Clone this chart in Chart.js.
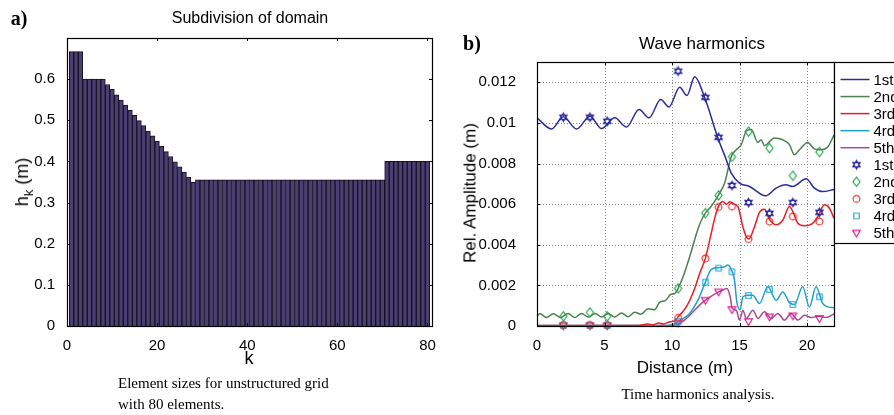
<!DOCTYPE html>
<html>
<head>
<meta charset="utf-8">
<script src="https://cdn.jsdelivr.net/npm/chart.js@4.4.0/dist/chart.umd.min.js"></script>
<style>
  body { margin: 0; background: #fff; }
  #wrap { position: relative; width: 894px; height: 415px; overflow: hidden; font-family: "Liberation Sans", Arial, sans-serif; color: #000; }
  canvas { position: absolute; top: 0; }
  .t { position: absolute; white-space: nowrap; line-height: 1; transform: translate(-50%, -50%); }
  .rot { transform: translate(-50%, -50%) rotate(-90deg); }
  .panel { font-family: "Liberation Serif", serif; font-weight: bold; font-size: 20px; }
  .cap { position: absolute; white-space: nowrap; font-family: "Liberation Serif", serif; font-size: 15px; line-height: 1; }
</style>
</head>
<body>
<div id="wrap">
  <canvas id="chartA" width="445" height="415" style="left:0;width:445px;height:415px"></canvas>
  <canvas id="chartB" width="449" height="415" style="left:445px;width:449px;height:415px"></canvas>

  <div class="t panel" style="left:19px;top:18px">a)</div>
  <div class="t" style="left:250px;top:18px;font-size:16px">Subdivision of domain</div>
  <div class="t rot" style="left:22px;top:182px;font-size:18px">h<span style="font-size:13px;position:relative;top:5px">k</span> (m)</div>
  <div class="t" style="left:249px;top:358px;font-size:18px">k</div>
  <div class="cap" style="left:118px;top:376px">Element sizes for unstructured grid</div>
  <div class="cap" style="left:118px;top:397px">with 80 elements.</div>

  <div class="t panel" style="left:472px;top:43px">b)</div>
  <div class="t" style="left:702px;top:43px;font-size:17px">Wave harmonics</div>
  <div class="t rot" style="left:470px;top:193px;font-size:17px">Rel. Amplitude (m)</div>
  <div class="t" style="left:685px;top:367px;font-size:17px">Distance (m)</div>
  <div class="t cap" style="left:698px;top:394px">Time harmonics analysis.</div>
</div>

<script>
// a) element sizes h_k for the 80 elements
const elementIndex = [1, 2, 3, 4, 5, 6, 7, 8, 9, 10, 11, 12, 13, 14, 15, 16, 17, 18, 19, 20,
  21, 22, 23, 24, 25, 26, 27, 28, 29, 30, 31, 32, 33, 34, 35, 36, 37, 38, 39, 40,
  41, 42, 43, 44, 45, 46, 47, 48, 49, 50, 51, 52, 53, 54, 55, 56, 57, 58, 59, 60,
  61, 62, 63, 64, 65, 66, 67, 68, 69, 70, 71, 72, 73, 74, 75, 76, 77, 78, 79, 80];
const elementSize = [0.667, 0.667, 0.667, 0.6, 0.6, 0.6, 0.6, 0.6,
  0.587, 0.575, 0.562, 0.549, 0.537, 0.524, 0.512, 0.499, 0.487, 0.474,
  0.462, 0.449, 0.437, 0.424, 0.412, 0.399, 0.387, 0.374, 0.362, 0.349,
  0.355, 0.355, 0.355, 0.355, 0.355, 0.355, 0.355, 0.355, 0.355, 0.355,
  0.355, 0.355, 0.355, 0.355, 0.355, 0.355, 0.355, 0.355, 0.355, 0.355,
  0.355, 0.355, 0.355, 0.355, 0.355, 0.355, 0.355, 0.355, 0.355, 0.355,
  0.355, 0.355, 0.355, 0.355, 0.355, 0.355, 0.355, 0.355, 0.355, 0.355,
  0.355, 0.355,
  0.4, 0.4, 0.4, 0.4, 0.4, 0.4, 0.4, 0.4, 0.4, 0.4];
const kTicks = [0, 20, 40, 60, 80];
const hTicks = [0, 0.1, 0.2, 0.3, 0.4, 0.5, 0.6];

// b) wave harmonics, lines
const h1X = [0, 1.08, 1.95, 2.93, 3.92, 4.78, 5.76, 6.63, 7.56, 8.3, 9.16, 9.78, 10.57, 11.11, 11.68, 12.42, 13.4, 14.02, 14.39, 15.0, 15.74, 16.93, 17.71, 18.45, 18.95, 19.93, 20.55, 21.16, 22];
const h1Y = [0.01025, 0.0097, 0.0103, 0.0097, 0.01033, 0.00972, 0.01025, 0.0098, 0.01066, 0.01025, 0.01115, 0.01079, 0.01176, 0.01135, 0.01227, 0.01125, 0.00926, 0.00819, 0.00753, 0.00704, 0.00687, 0.00641, 0.00679, 0.00695, 0.00687, 0.00725, 0.00679, 0.00662, 0.00672];
const h2X = [0, 0.22, 0.7, 1.2, 1.75, 2.3, 2.8, 3.3, 3.8, 4.3, 4.8, 5.27, 5.75, 6.26, 6.75, 7.24, 7.7, 8.23, 8.7, 9.1, 9.5, 9.9, 10.2, 10.45, 10.82, 11.31, 11.8, 12.1, 12.47, 12.91, 13.45, 13.9, 14.39, 14.76, 15.13, 15.5, 15.87, 16.36, 16.6, 16.85, 17.59, 18.21, 18.7, 19.07, 19.44, 20.05, 20.55, 21.04, 21.53, 22];
const h2Y = [0.0005, 0.0006, 0.00042, 0.0006, 0.00042, 0.00062, 0.00042, 0.00062, 0.00044, 0.00062, 0.00044, 0.00062, 0.00044, 0.00064, 0.00046, 0.00068, 0.00058, 0.00085, 0.0008, 0.00118, 0.00125, 0.00155, 0.0016, 0.00185, 0.00242, 0.00341, 0.00452, 0.0051, 0.00556, 0.0059, 0.00646, 0.00704, 0.00835, 0.00868, 0.00893, 0.00959, 0.00967, 0.00904, 0.00917, 0.00888, 0.00926, 0.00917, 0.00893, 0.00843, 0.00868, 0.00904, 0.00872, 0.00868, 0.00881, 0.0094];
const h3X = [0, 7.5, 8.2, 8.6, 9.0, 9.4, 9.8, 10.2, 10.45, 11.06, 11.68, 12.05, 12.47, 12.85, 13.2, 13.45, 13.77, 14.02, 14.3, 14.6, 14.88, 15.25, 15.5, 15.69, 16.11, 16.48, 16.85, 17.22, 17.71, 18.21, 18.7, 18.95, 19.32, 19.81, 20.43, 20.8, 21.29, 21.66, 22];
const h3Y = [0.00003, 0.00003, 0.0001, 0.00006, 0.00015, 0.0001, 0.0002, 0.00025, 0.00045, 0.00094, 0.00185, 0.00259, 0.00333, 0.0044, 0.0054, 0.0059, 0.00613, 0.006, 0.00612, 0.006, 0.00588, 0.00489, 0.0044, 0.00428, 0.00489, 0.0056, 0.00575, 0.00525, 0.00498, 0.00522, 0.00588, 0.00563, 0.00506, 0.00494, 0.00506, 0.00539, 0.00597, 0.0058, 0.0053];
const h4X = [0, 9.5, 10.0, 10.45, 10.9, 11.31, 11.92, 12.47, 12.91, 13.45, 13.9, 14.14, 14.46, 14.63, 14.8, 15.05, 15.25, 15.62, 15.99, 16.48, 17.1, 17.71, 18.21, 18.7, 19.07, 19.68, 20.18, 20.67, 21.16, 21.53, 22];
const h4Y = [0.00002, 0.00002, 0.00008, 0.0002, 0.0004, 0.00062, 0.00127, 0.00215, 0.00279, 0.00287, 0.00292, 0.003, 0.00267, 0.00226, 0.00119, 0.0008, 0.00144, 0.00152, 0.00152, 0.00111, 0.00193, 0.00127, 0.00168, 0.00115, 0.00106, 0.00193, 0.00094, 0.00193, 0.00111, 0.00094, 0.0009];
const h5X = [0, 9.8, 10.45, 10.9, 11.31, 12.05, 12.47, 13.03, 13.45, 13.77, 14.07, 14.31, 14.46, 14.76, 15.0, 15.25, 15.5, 15.99, 16.36, 16.85, 17.35, 17.84, 18.33, 18.82, 19.32, 19.81, 20.3, 20.92, 21.41, 22];
const h5Y = [0.00001, 0.00002, 0.0001, 0.00028, 0.00053, 0.00103, 0.00127, 0.00152, 0.00168, 0.00177, 0.00185, 0.00144, 0.00086, 0.00078, 0.00029, 0.00078, 0.00037, 0.00078, 0.00037, 0.0007, 0.00037, 0.00062, 0.00029, 0.00062, 0.00029, 0.00053, 0.00042, 0.00048, 0.00042, 0.0006];

// b) markers, same distances for every harmonic
const markX = [1.95, 3.92, 5.2, 10.45, 12.47, 13.45, 14.44, 15.67, 17.22, 18.95, 20.92];
const m1Y = [0.01028, 0.01028, 0.01008, 0.01255, 0.01126, 0.00929, 0.00692, 0.00608, 0.00555, 0.00608, 0.0056];
const m2Y = [0.00048, 0.00067, 0.00048, 0.00185, 0.00556, 0.00643, 0.00833, 0.00957, 0.00876, 0.0074, 0.00857];
const m3Y = [0.00005, 0.00005, 0.00005, 0.0004, 0.00333, 0.00586, 0.00588, 0.00428, 0.00514, 0.00539, 0.00514];
const m4Y = [0.00003, 0.00003, 0.00003, 0.00022, 0.00216, 0.00285, 0.00267, 0.0015, 0.0018, 0.00106, 0.00144];
const m5Y = [0.00001, 0.00001, 0.00001, 0.00015, 0.00127, 0.00168, 0.00081, 0.00022, 0.00045, 0.0005, 0.00037];
const harmonicNames = ['1st', '2nd', '3rd', '4rd', '5th'];
const distTicks = [0, 5, 10, 15, 20];
const ampTicks = [0, 0.002, 0.004, 0.006, 0.008, 0.01, 0.012];

const lineColors = ['#2a2e9c', '#4e8050', '#ee1c25', '#1ea0cc', '#a54a93'];
const markColors = ['#2a2a9f', '#17a349', '#e8231f', '#1ca3d6', '#df1a8c'];
const markShapes = ['hexagram', 'diamond', 'circle', 'square', 'triangleDown'];

Chart.defaults.font.family = '"Liberation Sans", Arial, sans-serif';
Chart.defaults.font.size = 15;
Chart.defaults.color = '#000';

function pts(xs, ys) {
  return xs.map((x, i) => ({ x: x, y: ys[i] }));
}

// small hollow marker drawn on its own canvas (matlab style)
function markerCanvas(shape, color) {
  const c = document.createElement('canvas');
  c.width = 13; c.height = 13;
  const g = c.getContext('2d');
  g.strokeStyle = color;
  g.lineWidth = 1.1;
  g.translate(6.5, 6.5);
  g.beginPath();
  if (shape === 'hexagram') {
    const r = 4.3;
    for (let t = 0; t < 2; t++) {
      const a0 = t === 0 ? -Math.PI / 2 : Math.PI / 2;
      for (let i = 0; i < 3; i++) {
        const a = a0 + i * 2 * Math.PI / 3;
        if (i === 0) g.moveTo(r * Math.cos(a), r * Math.sin(a));
        else g.lineTo(r * Math.cos(a), r * Math.sin(a));
      }
      g.closePath();
    }
  } else if (shape === 'diamond') {
    g.moveTo(0, -4.6); g.lineTo(3.6, 0); g.lineTo(0, 4.6); g.lineTo(-3.6, 0); g.closePath();
  } else if (shape === 'circle') {
    g.arc(0, 0, 3.4, 0, Math.PI * 2);
  } else if (shape === 'square') {
    g.rect(-2.7, -2.7, 5.4, 5.4);
  } else {
    g.moveTo(-3.9, -2.6); g.lineTo(3.9, -2.6); g.lineTo(0, 3.9); g.closePath();
  }
  g.stroke();
  return c;
}
const markImgs = markShapes.map((s, i) => markerCanvas(s, markColors[i]));

// box round the axes, ticks pointing inwards, optional dotted grid
function framePlugin(withGrid, tickLen) {
  return {
    id: 'frame',
    beforeDatasetsDraw(chart) {
      if (!withGrid) return;
      const ctx = chart.ctx, a = chart.chartArea, sx = chart.scales.x, sy = chart.scales.y;
      ctx.save();
      ctx.strokeStyle = '#8a8a8a';
      ctx.lineWidth = 1;
      ctx.setLineDash([1, 2]);
      sx.ticks.forEach(t => {
        const px = Math.round(sx.getPixelForValue(t.value)) + 0.5;
        if (px > a.left + 2 && px < a.right - 2) {
          ctx.beginPath(); ctx.moveTo(px, a.top); ctx.lineTo(px, a.bottom); ctx.stroke();
        }
      });
      sy.ticks.forEach(t => {
        const py = Math.round(sy.getPixelForValue(t.value)) + 0.5;
        if (py > a.top + 2 && py < a.bottom - 2) {
          ctx.beginPath(); ctx.moveTo(a.left, py); ctx.lineTo(a.right, py); ctx.stroke();
        }
      });
      ctx.restore();
    },
    afterDatasetsDraw(chart) {
      const ctx = chart.ctx, a = chart.chartArea, sx = chart.scales.x, sy = chart.scales.y;
      ctx.save();
      ctx.strokeStyle = '#000';
      ctx.lineWidth = 1;
      ctx.beginPath();
      sx.ticks.forEach(t => {
        const px = Math.round(sx.getPixelForValue(t.value)) + 0.5;
        ctx.moveTo(px, a.bottom); ctx.lineTo(px, a.bottom - tickLen);
        ctx.moveTo(px, a.top); ctx.lineTo(px, a.top + tickLen);
      });
      sy.ticks.forEach(t => {
        const py = Math.round(sy.getPixelForValue(t.value)) + 0.5;
        ctx.moveTo(a.left, py); ctx.lineTo(a.left + tickLen, py);
        ctx.moveTo(a.right, py); ctx.lineTo(a.right - tickLen, py);
      });
      ctx.stroke();
      ctx.lineWidth = 1.2;
      ctx.strokeRect(Math.round(a.left) + 0.5, Math.round(a.top) + 0.5,
        Math.round(a.right - a.left), Math.round(a.bottom - a.top));
      ctx.restore();
    }
  };
}

// legend box, cut by the right edge of the picture like the original
const legendPlugin = {
  id: 'harmLegend',
  afterDraw(chart) {
    const ctx = chart.ctx, a = chart.chartArea;
    const x0 = Math.round(a.right) + 0.5, y0 = Math.round(a.top) + 0.5;
    ctx.save();
    ctx.fillStyle = '#fff';
    ctx.fillRect(x0, y0, 200, 181);
    ctx.strokeStyle = '#000';
    ctx.lineWidth = 1.2;
    ctx.strokeRect(x0, y0, 200, 181);
    ctx.font = '15px "Liberation Sans", Arial, sans-serif';
    ctx.fillStyle = '#000';
    ctx.textBaseline = 'middle';
    const step = 17.05;
    harmonicNames.forEach((name, i) => {
      const y = y0 + 17 + i * step;
      ctx.strokeStyle = lineColors[i];
      ctx.lineWidth = 1.5;
      ctx.beginPath(); ctx.moveTo(x0 + 6, y); ctx.lineTo(x0 + 35, y); ctx.stroke();
      ctx.fillText(name, x0 + 39, y + 1);
    });
    harmonicNames.forEach((name, i) => {
      const y = y0 + 17 + (i + 5) * step;
      ctx.drawImage(markImgs[i], x0 + 22 - 6.5, y - 6.5);
      ctx.fillText(name, x0 + 39, y + 1);
    });
    ctx.restore();
  }
};

// a) bar chart
new Chart(document.getElementById('chartA'), {
  type: 'bar',
  data: {
    datasets: [{
      data: pts(elementIndex, elementSize),
      backgroundColor: '#4a3f73',
      borderColor: '#16121f',
      borderWidth: 1,
      barPercentage: 1,
      categoryPercentage: 1
    }]
  },
  options: {
    responsive: false,
    animation: false,
    layout: { padding: { left: 0, top: 38, right: 13, bottom: 29 } },
    plugins: { legend: { display: false }, tooltip: { enabled: false } },
    scales: {
      x: {
        type: 'linear', min: 0, max: 81, offset: false,
        afterBuildTicks: s => { s.ticks = kTicks.map(v => ({ value: v })); },
        afterFit: s => { s.height = 60; },
        grid: { display: false, offset: false }, border: { display: false },
        ticks: { padding: 3, maxRotation: 0, autoSkip: false }
      },
      y: {
        min: 0, max: 0.7,
        afterBuildTicks: s => { s.ticks = hTicks.map(v => ({ value: v })); },
        afterFit: s => { s.width = 67; },
        grid: { display: false }, border: { display: false },
        ticks: { padding: 4, callback: v => String(v) }
      }
    }
  },
  plugins: [framePlugin(false, 3)]
});

// b) wave harmonics
const setsB = [];
[h1X, h2X, h3X, h4X, h5X].forEach((xs, i) => {
  const ys = [h1Y, h2Y, h3Y, h4Y, h5Y][i];
  setsB.push({
    data: pts(xs, ys), borderColor: lineColors[i], borderWidth: 1.5,
    pointRadius: 0, fill: false, cubicInterpolationMode: 'monotone', order: 1
  });
});
[m1Y, m2Y, m3Y, m4Y, m5Y].forEach((ys, i) => {
  setsB.push({
    data: pts(markX, ys), showLine: false, pointStyle: markImgs[i],
    pointRadius: 4, borderColor: markColors[i], clip: false, order: 0
  });
});

new Chart(document.getElementById('chartB'), {
  type: 'line',
  data: { datasets: setsB },
  options: {
    responsive: false,
    animation: false,
    layout: { padding: { left: 0, top: 62, right: 60, bottom: 29 } },
    plugins: { legend: { display: false }, tooltip: { enabled: false } },
    scales: {
      x: {
        type: 'linear', min: 0, max: 22,
        afterBuildTicks: s => { s.ticks = distTicks.map(v => ({ value: v })); },
        afterFit: s => { s.height = 60; },
        grid: { display: false }, border: { display: false },
        ticks: { padding: 3, maxRotation: 0, autoSkip: false }
      },
      y: {
        min: 0, max: 0.013,
        afterBuildTicks: s => { s.ticks = ampTicks.map(v => ({ value: v })); },
        afterFit: s => { s.width = 92; },
        grid: { display: false }, border: { display: false },
        ticks: { padding: 13, callback: v => String(v) }
      }
    }
  },
  plugins: [framePlugin(true, 3), legendPlugin]
});
</script>
</body>
</html>
